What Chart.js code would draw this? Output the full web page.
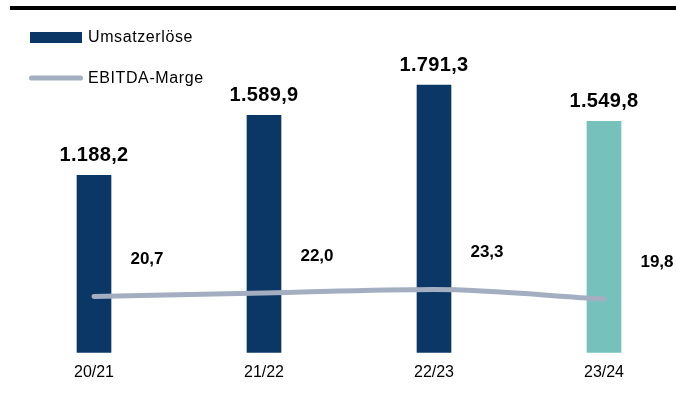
<!DOCTYPE html>
<html>
<head>
<meta charset="utf-8">
<script src="https://cdn.jsdelivr.net/npm/chart.js@4/dist/chart.umd.min.js"></script>
<style>
  html, body { margin: 0; padding: 0; background: #fff; overflow: hidden; }
  #wrap { position: absolute; left: 0; top: 0; width: 700px; height: 403px; }
  #topline { position: absolute; left: 10px; top: 6px; width: 690px; height: 4px; background: #000; z-index: 2; }
</style>
</head>
<body>
<div id="topline"></div>
<div id="wrap"><canvas id="c"></canvas></div>
<script>
const categories = ['20/21', '21/22', '22/23', '23/24'];
const umsatzerloese = [1188.2, 1589.9, 1791.3, 1549.8];
const ebitdaMarge = [20.7, 22.0, 23.3, 19.8];
const seriesNames = ['Umsatzerlöse', 'EBITDA-Marge'];

const NAVY = '#0B3766';
const TEAL = '#76C1BC';
const LINE = '#A3AEC1';
const FONT = '"Liberation Sans", Arial, sans-serif';

function fmt(v) {
  const parts = v.toFixed(1).split('.');
  const intPart = parts[0].replace(/\B(?=(\d{3})+(?!\d))/g, '.');
  return intPart + ',' + parts[1];
}

const labelPlugin = {
  id: 'labels',
  afterDatasetsDraw(chart) {
    const ctx = chart.ctx;
    ctx.save();
    ctx.fillStyle = '#000';
    ctx.textAlign = 'center';
    ctx.textBaseline = 'middle';
    // bar value labels
    const barMeta = chart.getDatasetMeta(0);
    ctx.font = 'bold 20px ' + FONT;
    ctx.letterSpacing = '0.3px';
    barMeta.data.forEach((el, i) => {
      ctx.fillText(fmt(chart.data.datasets[0].data[i]), el.x, el.y - 20);
    });
    // line value labels
    const lineMeta = chart.getDatasetMeta(1);
    ctx.font = 'bold 17px ' + FONT;
    ctx.letterSpacing = '0px';
    lineMeta.data.forEach((el, i) => {
      ctx.fillText(fmt(chart.data.datasets[1].data[i]), el.x + 53, el.y - 37);
    });
    ctx.restore();
  },
  afterDraw(chart) {
    const ctx = chart.ctx;
    ctx.save();
    // legend
    ctx.fillStyle = NAVY;
    ctx.fillRect(30, 32, 52, 11);
    ctx.strokeStyle = LINE;
    ctx.lineWidth = 5;
    ctx.lineCap = 'round';
    ctx.beginPath();
    ctx.moveTo(31.5, 78);
    ctx.lineTo(80.5, 78);
    ctx.stroke();
    ctx.fillStyle = '#000';
    ctx.font = '16px ' + FONT;
    ctx.letterSpacing = '0.6px';
    ctx.textAlign = 'left';
    ctx.textBaseline = 'middle';
    ctx.fillText(chart.data.datasets[0].label, 88, 38);
    ctx.fillText(chart.data.datasets[1].label, 88, 79);
    ctx.restore();
  }
};

new Chart(document.getElementById('c'), {
  data: {
    labels: categories,
    datasets: [
      {
        type: 'bar',
        label: seriesNames[0],
        data: umsatzerloese,
        backgroundColor: [NAVY, NAVY, NAVY, TEAL],
        barThickness: 34,
        order: 2,
        yAxisID: 'y'
      },
      {
        type: 'line',
        label: seriesNames[1],
        data: ebitdaMarge,
        borderColor: LINE,
        borderWidth: 5,
        borderCapStyle: 'round',
        cubicInterpolationMode: 'monotone',
        pointRadius: 0,
        pointHoverRadius: 0,
        order: 1,
        yAxisID: 'y1'
      }
    ]
  },
  options: {
    responsive: true,
    maintainAspectRatio: false,
    animation: false,
    layout: { padding: { left: 9, right: 11, top: 54, bottom: 11 } },
    plugins: { legend: { display: false }, tooltip: { enabled: false } },
    scales: {
      x: {
        grid: { display: false, drawTicks: false },
        border: { display: false },
        ticks: { color: '#000', font: { family: FONT, size: 16 }, padding: 10 }
      },
      y: { display: false, min: 0, max: 2000 },
      y1: { display: false, min: 0, max: 110 }
    }
  },
  plugins: [labelPlugin]
});
</script>
</body>
</html>
